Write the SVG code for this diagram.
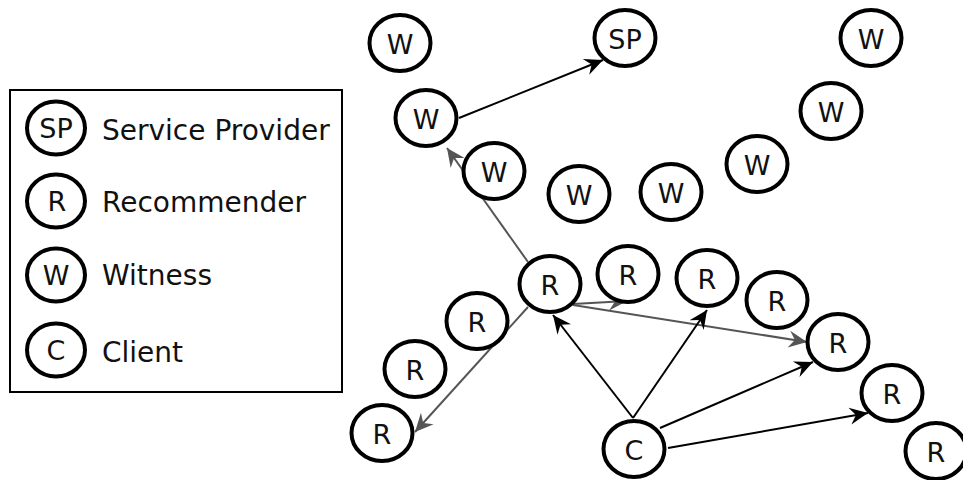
<svg xmlns="http://www.w3.org/2000/svg" width="963" height="480" viewBox="0 0 963 480">
<defs>
<style>
.n ellipse{fill:#fff;stroke:#000;stroke-width:4}
text{font-family:"DejaVu Sans",sans-serif;font-size:27px;fill:#111}
.n text{text-anchor:middle}
.lg{font-size:28px}
.e{fill:none;stroke-width:2}
.k{stroke:#000}
.g{stroke:#555}
</style>
<marker id="ak" markerUnits="userSpaceOnUse" markerWidth="22" markerHeight="22" viewBox="-16 -9 18 18" refX="0" refY="0" orient="auto"><path d="M0,0 L-15,-7 L-10,0 L-15,7 Z" fill="#000"/></marker>
<marker id="ag" markerUnits="userSpaceOnUse" markerWidth="22" markerHeight="22" viewBox="-16 -9 18 18" refX="0" refY="0" orient="auto"><path d="M0,0 L-15,-7 L-10,0 L-15,7 Z" fill="#555"/></marker>
</defs>
<rect width="963" height="480" fill="#fff"/>
<g id="legend">
<rect x="10" y="90" width="332" height="302" fill="none" stroke="#000" stroke-width="2"/>
<g class="n"><ellipse cx="56" cy="128" rx="29" ry="26.5"/><text x="56" y="138">SP</text></g>
<g class="n"><ellipse cx="56" cy="201" rx="29" ry="26.5"/><text x="57" y="211">R</text></g>
<g class="n"><ellipse cx="56" cy="275" rx="29" ry="26.5"/><text x="56" y="285">W</text></g>
<g class="n"><ellipse cx="56" cy="350" rx="29" ry="26.5"/><text x="56" y="360">C</text></g>
<text class="lg" x="102" y="140">Service Provider</text>
<text class="lg" x="102" y="212">Recommender</text>
<text class="lg" x="102" y="285">Witness</text>
<text class="lg" x="102" y="362">Client</text>
</g>
<g id="edges">
<line class="e k" x1="459" y1="118" x2="603" y2="60" marker-end="url(#ak)"/>
<line class="e g" x1="528" y1="262" x2="447" y2="148" marker-end="url(#ag)"/>
<line class="e g" x1="528" y1="307" x2="415" y2="432" marker-end="url(#ag)"/>
<line class="e g" x1="573" y1="304" x2="627" y2="301" marker-end="url(#ag)"/>
<line class="e g" x1="573" y1="305" x2="807" y2="342" marker-end="url(#ag)"/>
<line class="e k" x1="633" y1="418" x2="553" y2="315" marker-end="url(#ak)"/>
<line class="e k" x1="633" y1="418" x2="707" y2="310" marker-end="url(#ak)"/>
<line class="e k" x1="660" y1="428" x2="813" y2="362" marker-end="url(#ak)"/>
<line class="e k" x1="668" y1="448" x2="868" y2="413" marker-end="url(#ak)"/>
</g>
<g id="w1" class="n"><ellipse cx="400" cy="43" rx="30.5" ry="28"/><text x="400" y="54">W</text></g>
<g id="sp" class="n"><ellipse cx="625" cy="38" rx="30.5" ry="28"/><text x="625" y="49">SP</text></g>
<g id="w2" class="n"><ellipse cx="426" cy="118" rx="30.5" ry="28"/><text x="426" y="129">W</text></g>
<g id="w3" class="n"><ellipse cx="494" cy="171" rx="30.5" ry="28"/><text x="494" y="182">W</text></g>
<g id="w4" class="n"><ellipse cx="579" cy="194" rx="30.5" ry="28"/><text x="579" y="205">W</text></g>
<g id="w5" class="n"><ellipse cx="671" cy="192" rx="30.5" ry="28"/><text x="671" y="203">W</text></g>
<g id="w6" class="n"><ellipse cx="757" cy="164" rx="30.5" ry="28"/><text x="757" y="175">W</text></g>
<g id="w7" class="n"><ellipse cx="831" cy="111" rx="30.5" ry="28"/><text x="831" y="122">W</text></g>
<g id="w8" class="n"><ellipse cx="871" cy="38" rx="30.5" ry="28"/><text x="871" y="49">W</text></g>
<g id="r1" class="n"><ellipse cx="550" cy="284" rx="30.5" ry="28"/><text x="550" y="295">R</text></g>
<g id="r2" class="n"><ellipse cx="628" cy="274" rx="30.5" ry="28"/><text x="628" y="285">R</text></g>
<g id="r3" class="n"><ellipse cx="477" cy="321" rx="30.5" ry="28"/><text x="477" y="332">R</text></g>
<g id="r4" class="n"><ellipse cx="415" cy="369" rx="30.5" ry="28"/><text x="415" y="380">R</text></g>
<g id="r5" class="n"><ellipse cx="382" cy="433" rx="30.5" ry="28"/><text x="382" y="444">R</text></g>
<g id="r6" class="n"><ellipse cx="707" cy="278" rx="30.5" ry="28"/><text x="707" y="289">R</text></g>
<g id="r7" class="n"><ellipse cx="777" cy="300" rx="30.5" ry="28"/><text x="777" y="311">R</text></g>
<g id="r8" class="n"><ellipse cx="838" cy="342" rx="30.5" ry="28"/><text x="838" y="353">R</text></g>
<g id="r9" class="n"><ellipse cx="892" cy="393" rx="30.5" ry="28"/><text x="892" y="404">R</text></g>
<g id="r10" class="n"><ellipse cx="936" cy="451" rx="30.5" ry="28"/><text x="936" y="462">R</text></g>
<g id="c" class="n"><ellipse cx="634" cy="449" rx="30.5" ry="28"/><text x="634" y="460">C</text></g>
</svg>
